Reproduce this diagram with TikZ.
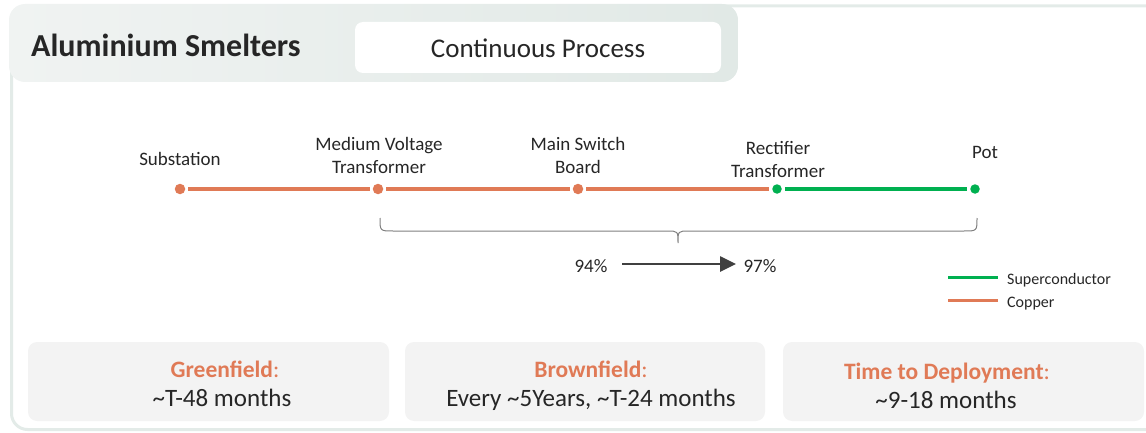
\documentclass[tikz,border=0pt]{standalone}
\usepackage{fontspec}
\setmainfont{Carlito}
\usetikzlibrary{arrows.meta}

\definecolor{cu}{HTML}{E07A56}
\definecolor{sc}{HTML}{00B050}
\definecolor{ink}{HTML}{262626}
\definecolor{frameline}{HTML}{E3EBE8}
\definecolor{tabL}{HTML}{F0F3F2}
\definecolor{tabR}{HTML}{E1E9E6}
\definecolor{panel}{HTML}{F3F3F3}
\definecolor{bracegray}{HTML}{808080}
\definecolor{arrowgray}{HTML}{404040}

\tikzset{
  lbl/.style={inner sep=0pt, outer sep=0pt, text=ink, align=center,
              font=\fontsize{19}{23}\selectfont},
  cudot/.style={circle, fill=cu, minimum size=10.5pt, inner sep=0pt, outer sep=0pt},
  scdot/.style={circle, fill=sc, minimum size=9.5pt, inner sep=0pt, outer sep=0pt},
  cuwire/.style={cu, line width=3.1pt, shorten <=3pt, shorten >=3pt},
  scwire/.style={sc, line width=3.1pt, shorten <=3pt, shorten >=3pt},
  bracepath/.style={bracegray, line width=1pt},
  gainarrow/.style={arrowgray, line width=2.6pt,
                    -{Triangle[length=16pt, width=15pt]}},
  panelbox/.style={fill=panel, rounded corners=9pt},
  headtxt/.style={inner sep=0pt, text=cu, font=\bfseries\fontsize{23.5}{28}\selectfont},
  bodytxt/.style={inner sep=0pt, text=ink, font=\fontsize{25}{29}\selectfont},
  legtxt/.style={inner sep=0pt, anchor=base west, text=ink, font=\fontsize{16}{18}\selectfont},
}

\begin{document}
\begin{tikzpicture}[x=1pt, y=-1pt]
\useasboundingbox (0,0) rectangle (1146,433);

% outer frame, running off to the right
\begin{scope}
  \clip (0,0) rectangle (1146,433);
  \draw[frameline, line width=3pt, rounded corners=16pt] (11.5,6) rectangle (1175,429.5);
\end{scope}

% header tab
\shade[left color=tabL, right color=tabR, rounded corners=16pt] (9,4) rectangle (738,82);
\node[anchor=base west, inner sep=0pt, text=ink,
      font=\bfseries\fontsize{32}{36}\selectfont] (title) at (31,57) {Aluminium Smelters};
\fill[white, rounded corners=8pt] (355,22) rectangle (721,73);
\node[anchor=base, inner sep=0pt, text=ink, font=\fontsize{27}{31}\selectfont]
  (mode) at (538,58) {Continuous Process};

% power chain
\node[cudot] (sub) at (180,189) {};
\node[cudot] (mvt) at (378,189) {};
\node[cudot] (msb) at (578,189) {};
\node[scdot] (rt)  at (777,189) {};
\node[scdot] (pot) at (975,189) {};

\draw[cuwire] (sub) -- (mvt);
\draw[cuwire] (mvt) -- (msb);
\draw[cuwire] (msb) -- (rt);
\draw[scwire] (rt) -- (pot);

% labels: the base anchor sits on the last line's baseline
\node[lbl, anchor=base] (subL) at (180,166) {Substation};
\node[lbl, anchor=base] (mvtL) at (379,173) {Medium Voltage\\Transformer};
\node[lbl, anchor=base] (msbL) at (578,173) {Main Switch\\Board};
\node[lbl, anchor=base] (rtL)  at (778,177) {Rectifier\\Transformer};
\node[lbl, anchor=base] (potL) at (985,159) {Pot};

% brace under the upgraded section
\coordinate (bl) at (380,218);
\coordinate (bt) at (678,243);
\coordinate (br) at (977,218);
\draw[bracepath] (bl) .. controls (380,231) .. (393,231) -- (667,231)
  .. controls (678,231) .. (bt) .. controls (678,231) .. (689,231) -- (964,231)
  .. controls (977,231) .. (br);

% efficiency gain
\node[lbl, anchor=base] (eff1) at (591,272) {94\%};
\node[lbl, anchor=base] (eff2) at (760,272) {97\%};
\coordinate (a0) at (622,264);
\coordinate (a1) at (736,264);
\draw[gainarrow] (a0) -- (a1);

% legend
\coordinate (g0) at (948,277);
\coordinate (g1) at (998,277);
\coordinate (c0) at (948,300.5);
\coordinate (c1) at (998,300.5);
\draw[sc, line width=3pt] (g0) -- (g1);
\draw[cu, line width=3pt] (c0) -- (c1);
\node[legtxt] (legS) at (1007,284) {Superconductor};
\node[legtxt] (legC) at (1007,307) {Copper};

% timeline panels
\fill[panelbox] (28,342) rectangle (389,421);
\fill[panelbox] (405,342) rectangle (765,421);
\fill[panelbox] (783,342) rectangle (1144,421);

\node[headtxt, anchor=base] (gfH) at (225,377) {Greenfield\textcolor{cu}{\mdseries:}};
\node[bodytxt, anchor=base] (gfB) at (222,406) {\textasciitilde T-48 months};
\node[headtxt, anchor=base] (bfH) at (591,377) {Brownfield\textcolor{cu}{\mdseries:}};
\node[bodytxt, anchor=base] (bfB) at (591,406) {Every \textasciitilde 5Years, \textasciitilde T-24 months};
\node[headtxt, anchor=base] (tdH) at (947,379) {Time to Deployment\textcolor{cu}{\mdseries:}};
\node[bodytxt, anchor=base] (tdB) at (946,408) {\textasciitilde 9-18 months};
\end{tikzpicture}
\end{document}
